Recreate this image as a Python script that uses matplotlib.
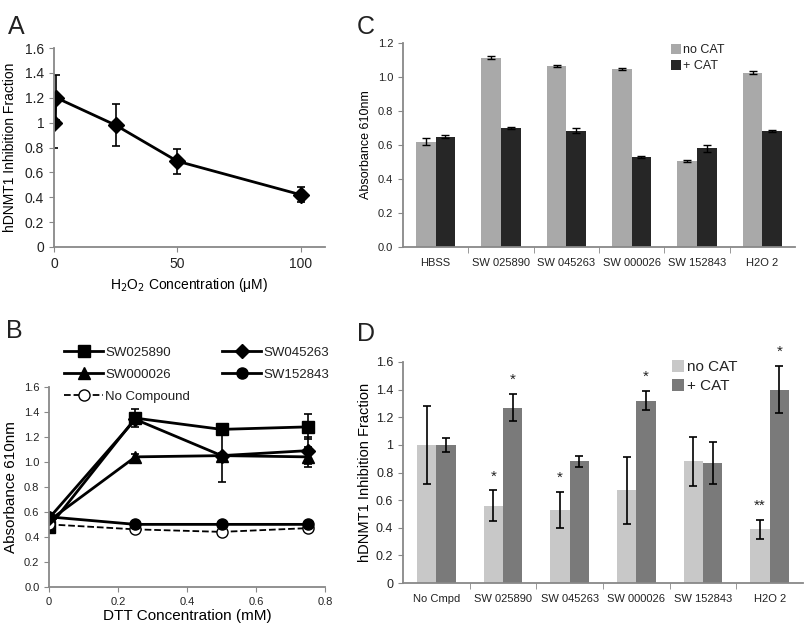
import numpy as np
import matplotlib
matplotlib.use("Agg")
import matplotlib.pyplot as plt
from matplotlib.lines import Line2D

plt.rcParams['font.family'] = ['Liberation Sans', 'DejaVu Sans']
plt.rcParams['text.color'] = '#222222'
plt.rcParams['xtick.color'] = '#888888'
plt.rcParams['ytick.color'] = '#888888'
plt.rcParams['xtick.labelcolor'] = '#222222'
plt.rcParams['ytick.labelcolor'] = '#222222'

# panel A data
h2o2_conc = [0, 1, 25, 50, 100]
h2o2_frac = [1.0, 1.2, 0.98, 0.69, 0.42]
h2o2_err = [0.2, 0.18, 0.17, 0.1, 0.06]

# panel B data
dtt_conc = [0, 0.25, 0.5, 0.75]
b_names = ["SW025890", "SW000026", "No Compound", "SW045263", "SW152843"]
b_vals = {
    "SW025890": [0.48, 1.35, 1.26, 1.28],
    "SW045263": [0.55, 1.34, 1.05, 1.09],
    "SW000026": [0.53, 1.04, 1.05, 1.04],
    "SW152843": [0.56, 0.50, 0.50, 0.50],
    "No Compound": [0.50, 0.46, 0.44, 0.47],
}
b_errs = {
    "SW025890": [0.02, 0.07, 0.0, 0.10],
    "SW045263": [0.02, 0.03, 0.21, 0.11],
    "SW000026": [0.02, 0.02, 0.02, 0.08],
    "SW152843": [0.01, 0.01, 0.01, 0.01],
    "No Compound": [0.01, 0.01, 0.01, 0.01],
}
b_markers = {"SW025890": "s", "SW045263": "D", "SW000026": "^",
             "SW152843": "o", "No Compound": "o"}

# panel C data
c_cats = ["HBSS", "SW 025890", "SW 045263", "SW 000026", "SW 152843", "H2O 2"]
c_nocat = [0.62, 1.115, 1.065, 1.05, 0.505, 1.025]
c_nocat_err = [0.02, 0.008, 0.006, 0.006, 0.004, 0.008]
c_cat = [0.65, 0.70, 0.685, 0.53, 0.58, 0.68]
c_cat_err = [0.01, 0.007, 0.015, 0.005, 0.02, 0.006]

# panel D data
d_cats = ["No Cmpd", "SW 025890", "SW 045263", "SW 000026", "SW 152843", "H2O 2"]
d_nocat = [1.0, 0.56, 0.53, 0.67, 0.88, 0.39]
d_nocat_err = [0.28, 0.11, 0.13, 0.24, 0.18, 0.07]
d_cat = [1.0, 1.27, 0.88, 1.32, 0.87, 1.40]
d_cat_err = [0.05, 0.1, 0.04, 0.07, 0.15, 0.17]
d_nocat_stars = ["", "*", "*", "", "", "**"]
d_cat_stars = ["", "*", "", "*", "", "*"]

fig = plt.figure(figsize=(8.05, 6.25), dpi=100)

def style(ax):
    for s in ['top', 'right']:
        ax.spines[s].set_visible(False)
    for s in ['left', 'bottom']:
        ax.spines[s].set_color('#888888')
        ax.spines[s].set_linewidth(1.3)

# ---- A ----
axA = fig.add_axes([0.067, 0.605, 0.337, 0.318])
style(axA)
axA.errorbar(h2o2_conc, h2o2_frac, yerr=h2o2_err, color='black', lw=2,
             marker='D', ms=8, capsize=3, elinewidth=1.2, capthick=1.2)
axA.set_xlim(0, 110)
axA.set_ylim(0, 1.6)
axA.set_xticks([0, 50, 100])
axA.set_yticks(np.arange(0, 1.61, 0.2))
axA.set_yticklabels(["0", "0.2", "0.4", "0.6", "0.8", "1", "1.2", "1.4", "1.6"])
axA.tick_params(labelsize=10)
axA.set_ylabel("hDNMT1 Inhibition Fraction", fontsize=10, labelpad=6)
axA.set_xlabel("H$_2$O$_2$ Concentration (μM)", fontsize=10)
fig.text(0.01, 0.945, "A", fontsize=18)

# ---- B ----
axB = fig.add_axes([0.061, 0.061, 0.343, 0.32])
style(axB)
handles = []
for name in b_names:
    ls = '--' if name == "No Compound" else '-'
    mfc = 'white' if name == "No Compound" else 'black'
    lw = 1.3 if name == "No Compound" else 2
    ms = 7 if b_markers[name] == 'D' else 8
    axB.errorbar(dtt_conc, b_vals[name], yerr=b_errs[name], color='black',
                 ls=ls, lw=lw, marker=b_markers[name], ms=ms, mfc=mfc,
                 capsize=3, elinewidth=1.2, capthick=1.2)
    handles.append(Line2D([], [], color='black', ls=ls, lw=lw,
                          marker=b_markers[name], ms=ms, mfc=mfc, label=name))
axB.set_xlim(0, 0.8)
axB.set_ylim(0, 1.6)
axB.set_xticks([0, 0.2, 0.4, 0.6, 0.8])
axB.set_xticklabels(["0", "0.2", "0.4", "0.6", "0.8"])
axB.set_yticks(np.arange(0, 1.61, 0.2))
axB.set_yticklabels(["%.1f" % v for v in np.arange(0, 1.61, 0.2)])
axB.tick_params(labelsize=8)
axB.set_ylabel("Absorbance 610nm", fontsize=11)
axB.set_xlabel("DTT Concentration (mM)", fontsize=11, labelpad=2)
axB.legend(handles=handles, ncol=2, loc='lower left', bbox_to_anchor=(0.01, 0.86),
           frameon=False, fontsize=9.5, handlelength=3, columnspacing=2.4,
           labelspacing=0.75, handletextpad=0.15)
fig.text(0.008, 0.46, "B", fontsize=18)

# ---- C ----
axC = fig.add_axes([0.5006, 0.605, 0.487, 0.326])
style(axC)
x = np.arange(len(c_cats))
w = 0.3
axC.bar(x - w / 2, c_nocat, w, color='#a9a9a9', label='no CAT',
        yerr=c_nocat_err, capsize=3, error_kw=dict(elinewidth=1, capthick=1))
axC.bar(x + w / 2, c_cat, w, color='#262626', label='+ CAT',
        yerr=c_cat_err, capsize=3, error_kw=dict(elinewidth=1, capthick=1))
axC.set_xlim(-0.5, len(c_cats) - 0.5)
axC.set_ylim(0, 1.2)
axC.set_yticks(np.arange(0, 1.21, 0.2))
axC.set_yticklabels(["%.1f" % v for v in np.arange(0, 1.21, 0.2)])
axC.set_xticks(x)
axC.set_xticklabels(c_cats)
axC.set_xticks(np.arange(0.5, len(c_cats) - 0.5, 1), minor=True)
axC.tick_params(axis='x', which='major', length=0, pad=8)
axC.tick_params(axis='x', which='minor', length=4, color='#888888')
axC.tick_params(labelsize=8)
axC.set_ylabel("Absorbance 610nm", fontsize=9)
axC.legend(loc='upper right', bbox_to_anchor=(0.85, 1.05), frameon=False,
           fontsize=9, handlelength=0.8, handleheight=0.8, handletextpad=0.2,
           labelspacing=0.3)
fig.text(0.443, 0.945, "C", fontsize=18)

# ---- D ----
axD = fig.add_axes([0.5006, 0.067, 0.497, 0.354])
style(axD)
x = np.arange(len(d_cats))
w = 0.29
axD.bar(x - w / 2, d_nocat, w, color='#c8c8c8', label='no CAT',
        yerr=d_nocat_err, capsize=3, error_kw=dict(elinewidth=1.2, capthick=1.2))
axD.bar(x + w / 2, d_cat, w, color='#7a7a7a', label='+ CAT',
        yerr=d_cat_err, capsize=3, error_kw=dict(elinewidth=1.2, capthick=1.2))
for i in range(len(d_cats)):
    if d_nocat_stars[i]:
        axD.text(x[i] - w / 2, d_nocat[i] + d_nocat_err[i] + 0.05, d_nocat_stars[i],
                 ha='center', va='bottom', fontsize=11)
    if d_cat_stars[i]:
        axD.text(x[i] + w / 2, d_cat[i] + d_cat_err[i] + 0.05, d_cat_stars[i],
                 ha='center', va='bottom', fontsize=11)
axD.set_xlim(-0.5, len(d_cats) - 0.5)
axD.set_ylim(0, 1.6)
axD.set_yticks(np.arange(0, 1.61, 0.2))
axD.set_yticklabels(["0", "0.2", "0.4", "0.6", "0.8", "1", "1.2", "1.4", "1.6"])
axD.set_xticks(x)
axD.set_xticklabels(d_cats)
axD.set_xticks(np.arange(0.5, len(d_cats) - 0.5, 1), minor=True)
axD.tick_params(axis='x', which='major', length=0, pad=8)
axD.tick_params(axis='x', which='minor', length=4, color='#888888')
axD.tick_params(labelsize=8)
axD.tick_params(axis='y', labelsize=9)
axD.set_ylabel("hDNMT1 Inhibition Fraction", fontsize=10.5, labelpad=3)
axD.legend(loc='upper right', bbox_to_anchor=(0.87, 1.07), frameon=False,
           fontsize=11, handlelength=0.8, handleheight=0.8, handletextpad=0.2,
           labelspacing=0.3)
fig.text(0.443, 0.455, "D", fontsize=18)

fig.savefig("out.png", dpi=100)
